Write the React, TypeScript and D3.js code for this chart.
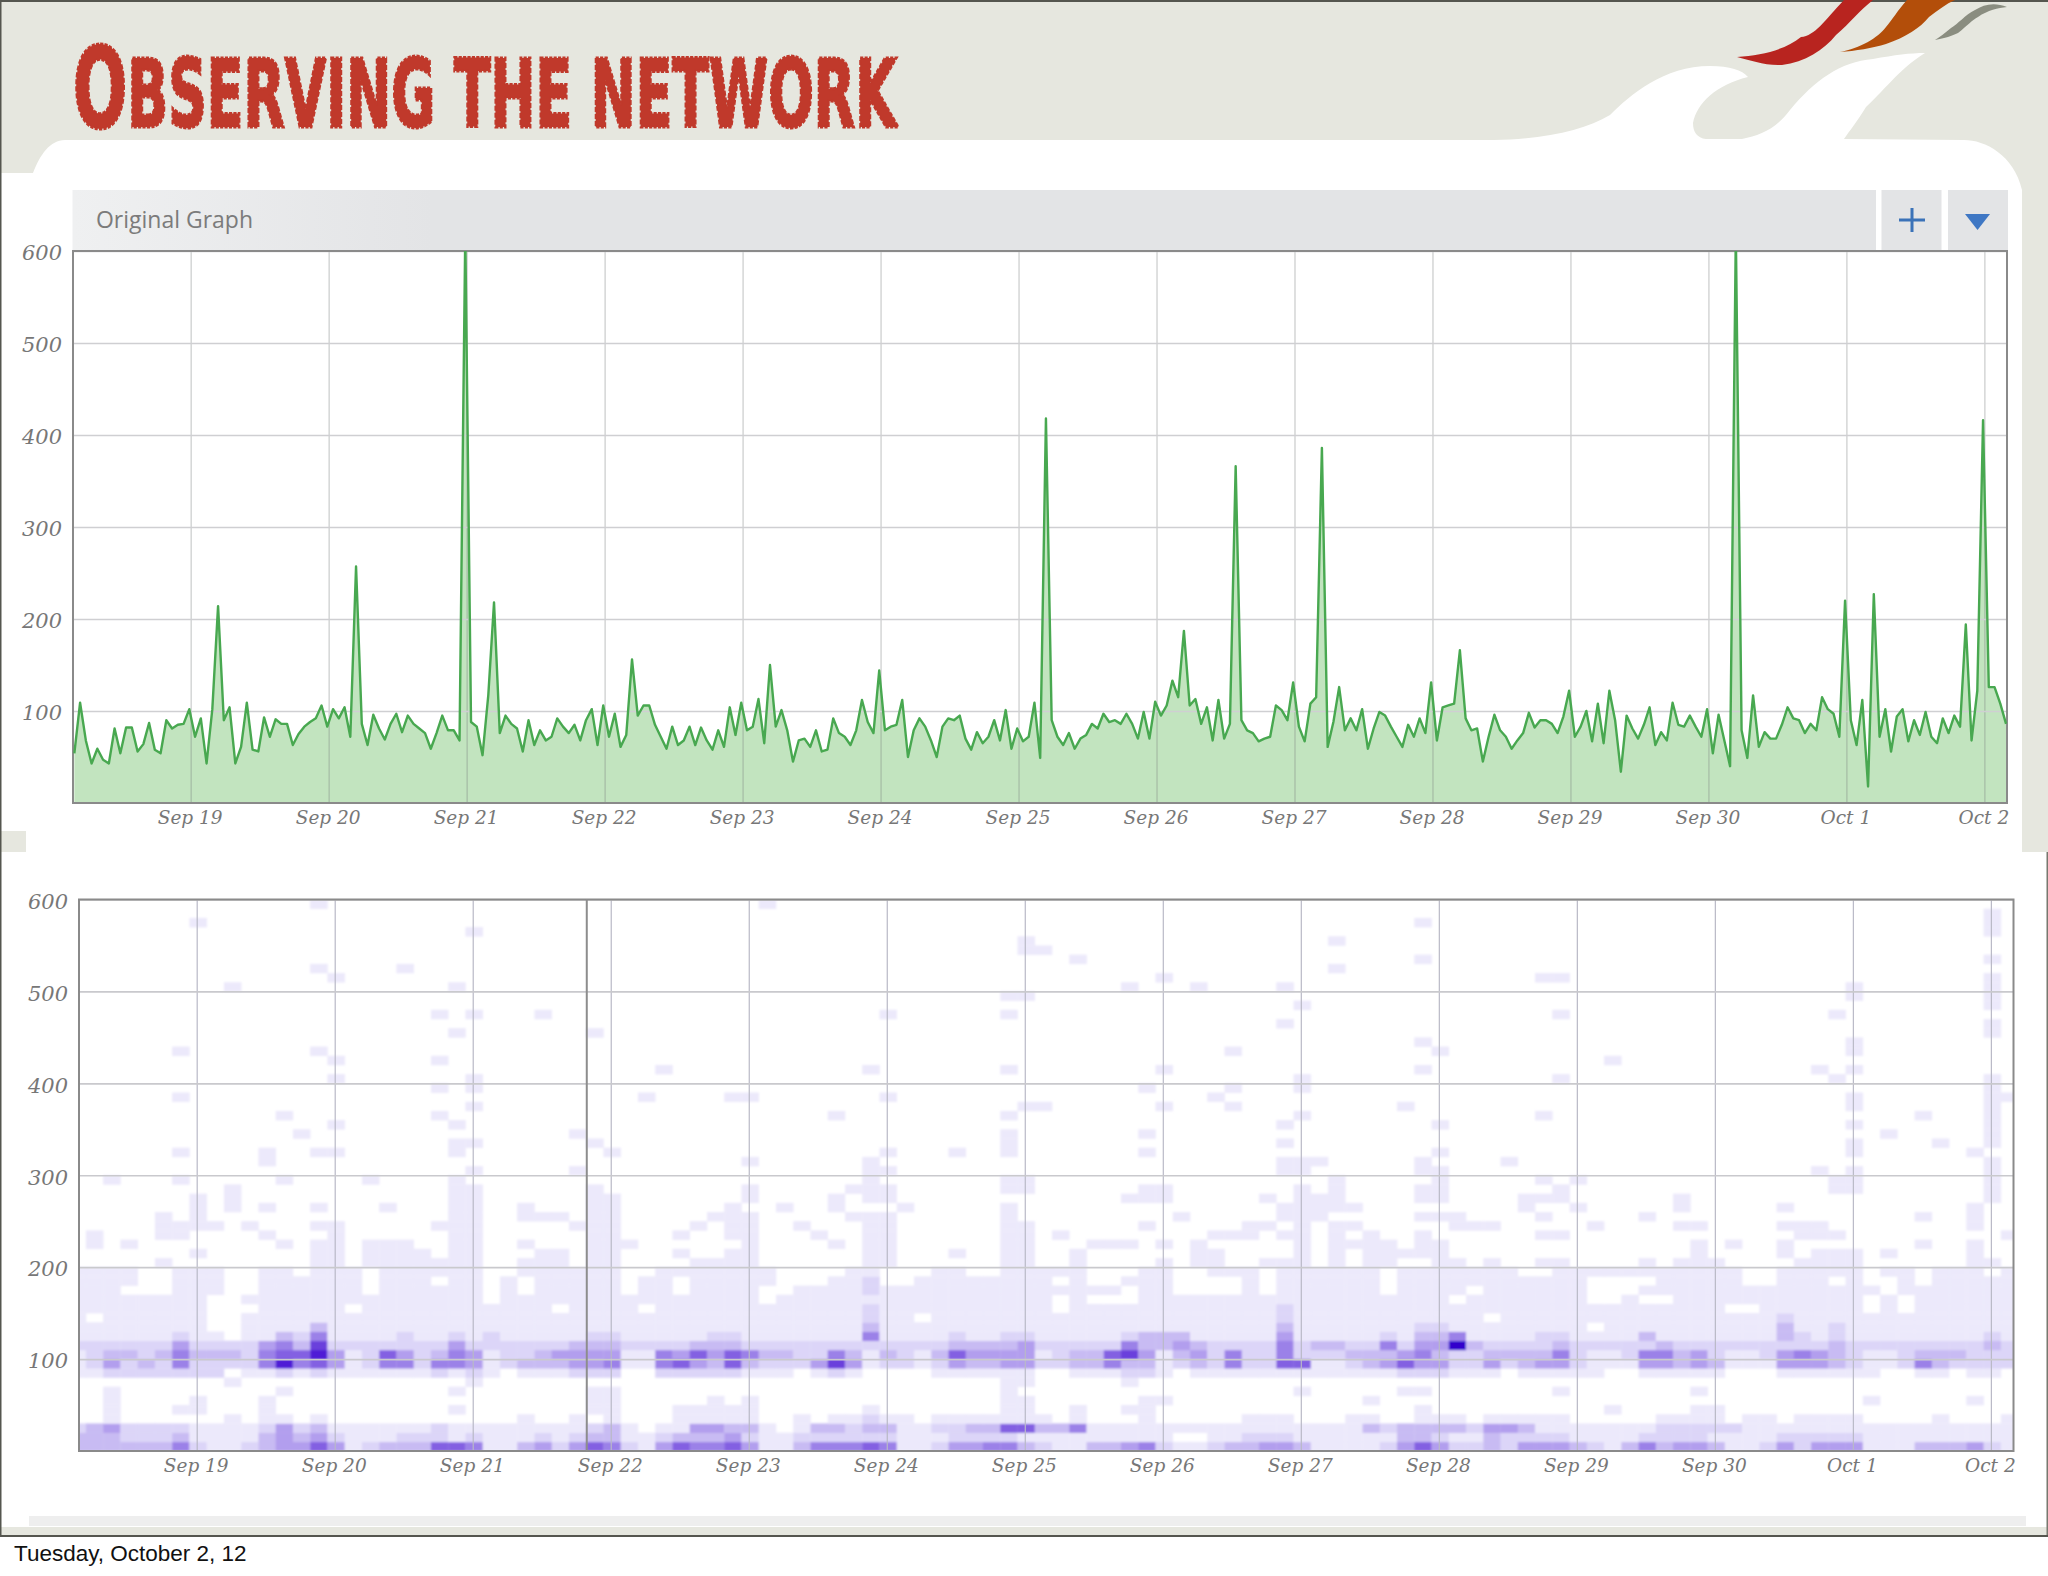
import { useEffect, useRef } from "react";
import * as d3 from "d3";

// hourly samples (the two tallest spikes run off the top)
const lineValues = [
  54, 109, 68, 43, 59, 47, 43, 81, 54, 82, 82, 56, 64, 87, 58, 54, 90, 81, 85, 86,
  102, 72, 92, 43, 102, 214, 90, 104, 43, 61, 109, 58, 56, 93, 72, 91, 86, 86, 63, 75,
  83, 88, 92, 106, 83, 102, 92, 104, 72, 257, 86, 63, 96, 81, 69, 86, 97, 77, 95, 86,
  81, 76, 59, 76, 95, 79, 79, 68, 620, 88, 83, 52, 117, 218, 76, 95, 86, 81, 56, 90,
  63, 79, 68, 72, 92, 83, 76, 85, 68, 90, 102, 63, 106, 72, 97, 61, 74, 156, 95, 106,
  106, 85, 72, 59, 83, 63, 68, 83, 63, 82, 68, 58, 79, 61, 104, 74, 109, 79, 83, 113,
  65, 150, 83, 101, 79, 45, 68, 70, 61, 79, 56, 58, 92, 76, 72, 63, 79, 112, 88, 76,
  144, 79, 83, 85, 112, 50, 79, 92, 83, 68, 50, 83, 92, 90, 95, 70, 58, 77, 65, 72,
  90, 68, 101, 59, 81, 67, 72, 109, 49, 418, 90, 72, 63, 76, 59, 70, 74, 86, 81, 97,
  88, 90, 86, 97, 86, 70, 99, 70, 110, 95, 106, 133, 115, 187, 106, 113, 86, 104, 68, 112,
  70, 86, 366, 90, 79, 76, 67, 70, 72, 106, 101, 90, 131, 83, 67, 108, 115, 386, 61, 88,
  126, 79, 92, 79, 102, 59, 81, 99, 95, 83, 72, 61, 85, 72, 92, 76, 131, 68, 104, 106,
  108, 166, 92, 79, 81, 45, 72, 96, 79, 72, 59, 68, 76, 98, 82, 90, 90, 86, 76, 94,
  122, 72, 83, 100, 67, 108, 65, 122, 90, 34, 95, 81, 70, 85, 104, 63, 77, 68, 109, 85,
  83, 95, 83, 72, 102, 54, 96, 68, 40, 620, 79, 49, 117, 61, 77, 70, 70, 85, 104, 92,
  90, 76, 86, 79, 115, 102, 97, 72, 220, 90, 63, 112, 18, 227, 72, 102, 56, 94, 102, 67,
  90, 74, 99, 72, 65, 92, 76, 95, 83, 194, 68, 122, 416, 126, 126, 108, 86,
];

const xTickLabels = [
  "Sep 19", "Sep 20", "Sep 21", "Sep 22", "Sep 23", "Sep 24", "Sep 25",
  "Sep 26", "Sep 27", "Sep 28", "Sep 29", "Sep 30", "Oct 1", "Oct 2",
];
const yTickValues = [100, 200, 300, 400, 500, 600];

// heatmap rows from 0-10 upwards, one digit per 3 hour bucket (0 = empty), grouped by tens
const denseRows = [
  "3333335211 2344641233 3665113424 6521465564 1135556511 2445532113 3452112334 4311112464 2232444321 3534431124 2444111333 421",
  "3332223111 1343421112 2212111212 3311233342 1122222211 1222211111 1111001122 2111111332 1132222111 1222211112 2222111111 111",
  "2342222111 1242311111 1211111111 2310114433 1013323311 2233663351 1111111111 1111132333 3244311111 1122222111 1111111111 111",
  "0010000001 0110100000 0000001001 0100011111 0010112110 1111111010 0010000011 1000110011 1011111000 0011110110 1111000010 001",
  "0010001100 0100000000 0010000000 1100011111 0000001000 0000110010 0110000000 0000000010 0000000001 0000110000 0000000000 000",
  "0010000100 0100000000 0000000000 1100000101 0000000000 0000110000 0011000000 0000010000 0000000000 0000000000 0000100000 100",
  "0010000000 0010000000 0010000000 1100000000 0000000000 0000100000 0000000000 0100000110 0000001000 0000100000 0000000000 000",
  "0000000001 0000000000 0001000000 0000000000 0000000000 0000110000 0100000000 0000000000 0000000000 0000000000 0000000000 000",
  "1122222220 1121211111 1212101112 2200222221 1101210000 1111110011 1221011111 1111111222 1110111110 0111110001 1111100110 110",
  "1242325222 2585641255 2554123334 4511564363 2224741221 2433442233 5331232522 6611234644 2242344211 1443431114 4432112532 222",
  "1233235333 2566841264 2354122344 4411546465 3322531321 3644441233 6741342522 5222333453 2233335211 2553421124 5432112333 222",
  "2222224222 2453722222 2242222223 3322223332 2222222222 2333342222 2533432222 5233225244 9322223222 2232222222 2232222222 232",
  "1111112110 1132511112 1121211111 2211111221 1111115111 1211221111 1233311111 4111112133 5111122111 1311111113 2121111111 121",
  "1111111100 1111311111 1111111111 1111111111 1111113111 1111111111 1111111111 3111111122 1111111101 1111111113 1121111111 111",
  "1011111100 1111111111 1111111111 1111111111 1111112110 1111111111 1111111111 2111111111 1101111111 1111111112 1111111111 111",
  "1111111100 0111110111 1111111101 1110111111 1111112111 1111111011 1111111111 2111111111 1111111111 1111110011 1111010111 111",
  "1111111100 1111111111 1111011111 1111111111 0111111111 1111111010 0011111111 1111111111 0111111100 1001111111 1111010111 111",
  "1110001110 0111111011 1111010111 1101101111 0011112111 1111111111 1011000010 1111110111 1011111100 0111111111 1111101111 111",
  "1111001110 0111111011 1011010111 1101101111 1000112001 1111111010 0111000010 1111110111 1111111100 0011111001 1101001011 111",
  "1111001110 0110111011 1111001111 1100111111 1000011000 1100111110 0011001110 1111110111 1111001111 1111111001 1111011011 101",
  "0000010000 0000110111 1111001110 1100001111 0000001100 0000110010 0001011001 1101011001 1010011000 0101110000 1111000000 110",
  "0000000100 0000110111 1011000110 1100010011 0000001100 0100110010 0000011000 0101011111 0000000000 0000100001 0111010000 100",
  "0101000000 0010110111 0011001000 1110000001 0000101100 0000110001 1101010000 0101111011 0000000000 0000101001 0000000100 100",
  "0100011000 0100010000 0011000000 1100010011 0001001100 0000110100 0000001110 1101010010 0000011000 0000000000 1110000000 001",
  "0000011110 1000110000 0111000001 1100001011 0010001100 0000110000 0010000011 0101100000 1110000010 0001100001 1100000000 100",
  "0000010100 0000000000 0011001110 1100000111 0000011100 0000100000 0000100000 1110000011 1000010000 0100000000 0000000100 100",
  "0000000101 0100100010 0011001000 1100000010 0100100010 0000100000 0000000000 1111100000 0000100100 0001000001 0000000000 100",
  "0000000101 0000000000 0011000000 1100000001 0000101100 0000000000 0111000001 0111000011 0000111000 0001000000 0000000000 010",
  "0000000001 0000000000 0011000000 1000000001 0000011100 0000110000 0011000000 0101000011 0000001000 0000000000 0011000000 010",
];

// rows 290-600 are sparse, so only the occupied buckets are listed (all palest level)
const sparseCols = [
  [2, 6, 12, 17, 22, 46, 54, 55, 73, 79, 85, 87, 102, 103, 111],
  [23, 29, 46, 47, 70, 71, 78, 79, 101, 103, 111],
  [11, 39, 46, 70, 71, 72, 78, 83, 111],
  [6, 11, 14, 15, 22, 31, 47, 51, 54, 62, 79, 103, 110],
  [22, 23, 30, 54, 70, 103, 108, 111],
  [13, 29, 54, 62, 105, 111],
  [15, 22, 70, 79, 103, 111],
  [12, 21, 44, 54, 71, 85, 107, 111],
  [23, 55, 56, 63, 67, 77, 103, 111],
  [6, 33, 38, 39, 47, 66, 103, 111, 112],
  [21, 23, 62, 67, 71, 111],
  [15, 23, 71, 86, 102, 111],
  [34, 46, 54, 63, 78, 101, 103],
  [15, 21, 89],
  [6, 14, 67, 79, 103],
  [78, 103],
  [22, 30, 111],
  [70, 111],
  [21, 23, 27, 47, 54, 86, 102],
  [71, 111],
  [54, 55, 103, 111],
  [9, 22, 61, 65, 70, 103, 111],
  [15, 63, 85, 86, 111],
  [14, 19, 73],
  [58, 78, 111],
  [55, 56],
  [55, 73],
  [23, 111],
  [7, 78, 111],
  [111],
  [14, 40],
];

const heatColors = [
  "#ffffff", "#ece9fb", "#dcd5f8", "#c8bbf3", "#b29eee",
  "#9b81e8", "#8360e2", "#6b40dc", "#4f1fd6", "#3300cc",
];

const rowSize = 10;
const bucketHours = 3;
const domainStart = Date.UTC(2012, 8, 18, 3, 32);
const domainEnd = Date.UTC(2012, 9, 2, 3, 56);
const firstSample = Date.UTC(2012, 8, 18, 3, 46);
const firstBucket = Date.UTC(2012, 8, 18, 1, 44);

const labelFont = "'DejaVu Serif', serif";

const hour = 3600 * 1000;
const tickDates = xTickLabels.map((_, i) => new Date(Date.UTC(2012, 8, 19 + i)));

function drawAxes(
  g: d3.Selection<SVGGElement, unknown, null, undefined>,
  x: d3.ScaleTime<number, number>,
  y: d3.ScaleLinear<number, number>,
  gridColor: string,
  vGridColor: string
) {
  const [left, right] = x.range();
  const [bottom, top] = y.range();

  const xAxis = g
    .append("g")
    .attr("transform", `translate(0,${bottom})`)
    .call(
      d3
        .axisBottom(x)
        .tickValues(tickDates)
        .tickFormat((_, i) => xTickLabels[i])
        .tickSize(-(bottom - top))
        .tickPadding(8)
    );
  const yAxis = g
    .append("g")
    .attr("transform", `translate(${left},0)`)
    .call(
      d3
        .axisLeft(y)
        .tickValues(yTickValues)
        .tickFormat((d) => String(d))
        .tickSize(-(right - left))
        .tickPadding(11)
    );

  xAxis.select(".domain").remove();
  yAxis.select(".domain").remove();
  xAxis.selectAll("line").attr("stroke", vGridColor).attr("stroke-width", 1.2);
  yAxis.selectAll("line").attr("stroke", gridColor).attr("stroke-width", 1.6);

  g.selectAll("text")
    .attr("font-family", labelFont)
    .attr("font-style", "italic")
    .attr("fill", "#777");
  xAxis.selectAll("text").attr("font-size", 18.5).attr("dx", -1);
  yAxis.selectAll("text").attr("font-size", 21).attr("dy", "0.42em");

  g.append("rect")
    .attr("x", left)
    .attr("y", top)
    .attr("width", right - left)
    .attr("height", bottom - top)
    .attr("fill", "none")
    .attr("stroke", "#8a8a8a")
    .attr("stroke-width", 2);
}

const App = () => {
  const svgRef = useRef<SVGSVGElement | null>(null);

  useEffect(() => {
    const svg = d3.select(svgRef.current);
    svg.selectAll(".chart").remove();

    // top chart: green line over a filled area
    const xTop = d3.scaleUtc().domain([domainStart, domainEnd]).range([73, 2007]);
    const yTop = d3.scaleLinear().domain([0, 600]).range([803, 251]);
    const top = svg.append("g").attr("class", "chart");

    const sampleTime = (i: number) => firstSample + i * hour;
    top
      .append("path")
      .datum(lineValues)
      .attr("clip-path", "url(#clipTop)")
      .attr("fill", "#c2e4bf")
      .attr(
        "d",
        d3
          .area<number>()
          .x((_, i) => xTop(sampleTime(i)))
          .y0(yTop(0))
          .y1((d) => yTop(d))
      );
    drawAxes(top, xTop, yTop, "#cfcfd2", "rgba(120,125,125,0.4)");
    top
      .append("path")
      .datum(lineValues)
      .attr("clip-path", "url(#clipTop)")
      .attr("fill", "none")
      .attr("stroke", "#48a850")
      .attr("stroke-width", 2.4)
      .attr("stroke-linejoin", "round")
      .attr(
        "d",
        d3
          .line<number>()
          .x((_, i) => xTop(sampleTime(i)))
          .y((d) => yTop(d))
      );

    // bottom chart: latency buckets
    const xHeat = d3.scaleUtc().domain([domainStart, domainEnd]).range([79, 2013.5]);
    const yHeat = d3.scaleLinear().domain([0, 600]).range([1451, 899.5]);
    const heat = svg.append("g").attr("class", "chart");

    const cells: { col: number; row: number; level: number }[] = [];
    denseRows.forEach((text, row) => {
      text
        .replace(/ /g, "")
        .split("")
        .forEach((ch, col) => {
          if (ch !== "0") cells.push({ col, row, level: +ch });
        });
    });
    sparseCols.forEach((cols, i) => {
      cols.forEach((col) => cells.push({ col, row: denseRows.length + i, level: 1 }));
    });

    const bucketTime = (col: number) => firstBucket + col * bucketHours * hour;
    heat
      .append("g")
      .attr("clip-path", "url(#clipHeat)")
      .append("g")
      .attr("filter", "url(#soften)")
      .selectAll("rect")
      .data(cells)
      .enter()
      .append("rect")
      .attr("x", (d) => xHeat(bucketTime(d.col)))
      .attr("y", (d) => yHeat((d.row + 1) * rowSize))
      .attr("width", (d) => xHeat(bucketTime(d.col + 1)) - xHeat(bucketTime(d.col)) + 0.3)
      .attr("height", (d) => yHeat(d.row * rowSize) - yHeat((d.row + 1) * rowSize) + 0.3)
      .attr("fill", (d) => heatColors[d.level]);

    drawAxes(heat, xHeat, yHeat, "#c9c9cd", "#b9b9c6");

    // hover cursor that was caught in the screenshot
    const cursorTime = Date.UTC(2012, 8, 21, 19, 50);
    heat
      .append("line")
      .attr("x1", xHeat(cursorTime))
      .attr("x2", xHeat(cursorTime))
      .attr("y1", yHeat(600))
      .attr("y2", yHeat(0))
      .attr("stroke", "#8d8d8d")
      .attr("stroke-width", 2);
  }, []);

  return (
    <svg
      ref={svgRef}
      width={2048}
      height={1576}
      style={{ position: "absolute", left: 0, top: 0, background: "#fff" }}
    >
      <defs>
        <clipPath id="clipTop">
          <rect x={73} y={251} width={1934} height={552} />
        </clipPath>
        <clipPath id="clipHeat">
          <rect x={79} y={899.5} width={1934.5} height={551.5} />
        </clipPath>
        <filter id="soften" x="0" y="0" width="100%" height="100%">
          <feGaussianBlur stdDeviation="1.2" />
        </filter>
        <linearGradient id="barFill" x1="0" x2="1" y1="0" y2="0">
          <stop offset="0" stopColor="#eff0f1" />
          <stop offset="0.2" stopColor="#e3e4e6" />
          <stop offset="1" stopColor="#e3e4e6" />
        </linearGradient>
      </defs>

      {/* slide background */}
      <rect x={0} y={0} width={2048} height={1536} fill="#e6e7df" />
      <path
        fill="#fff"
        d="M0,173 L33,173 C40,155 50,140 65,140 L1494,140 C1546,139 1585,130 1610,115 C1630,95 1664,66 1710,66 C1730,66 1742,70 1748,77 C1716,85 1697,103 1693,123 C1693,132 1697,138 1706,139 L1742,139 C1760,135 1775,130 1790,110 C1815,80 1840,62 1873,59 C1895,55 1910,53 1925,53 C1900,68 1880,95 1866,107 C1857,122 1850,130 1844,139 L1964,140 C1985,140 2014,155 2022,190 L2022,852 L2048,852 L2048,1527 L0,1527 Z"
      />
      <rect x={0} y={831} width={26} height={21} fill="#e6e7df" />
      <rect x={29} y={1516} width={1997} height={10} fill="#eeeeee" />
      <rect x={0} y={0} width={2048} height={2} fill="#55564f" />
      <rect x={0} y={0} width={1.5} height={1537} fill="#55564f" />
      <rect x={2046.5} y={852} width={1.5} height={685} fill="#77786f" />
      <rect x={0} y={1535} width={2048} height={2} fill="#55564f" />

      {/* logo strokes */}
      <path
        fill="#b8241f"
        d="M1844,0 C1825,20 1815,36 1801,37 C1785,50 1762,55 1737,57 C1750,60 1765,66 1782,65 C1805,62 1824,50 1836,35 C1850,23 1860,10 1873,0 Z"
      />
      <path
        fill="#b34e0a"
        d="M1907,0 C1898,10 1892,20 1886,27 C1878,38 1860,48 1840,52 C1855,51 1873,48 1886,44 C1906,37 1920,28 1929,17 C1938,10 1946,4 1955,0 Z"
      />
      <path
        fill="#8a8d80"
        d="M2007,7 C1995,2 1984,4 1975,10 C1965,15 1958,24 1951,28 C1945,33 1940,37 1935,40 C1945,38 1952,36 1958,33 C1968,25 1972,20 1978,17 C1988,10 1998,8 2007,7 Z"
      />

      {/* title */}
      <text
        transform="translate(73,127) scale(0.628,1)"
        fill="#c0392b"
        fontFamily="'Liberation Sans Narrow', 'DejaVu Sans Condensed', sans-serif"
        fontWeight="bold"
        stroke="#c0392b"
        strokeWidth={3}
        strokeDasharray="5 2"
      >
        <tspan fontSize={113}>O</tspan>
        <tspan fontSize={95}>BSERVING THE NETWORK</tspan>
      </text>

      {/* graph title bar */}
      <rect x={72.5} y={190} width={1803.5} height={60} fill="url(#barFill)" />
      <rect x={1881.5} y={190} width={60} height={60} fill="#e3e4e6" />
      <rect x={1948} y={190} width={60} height={60} fill="#e3e4e6" />
      <text
        x={96}
        y={228}
        fill="#7b7b7b"
        fontFamily="'Open Sans', sans-serif"
        fontSize={24}
        textLength={157}
        lengthAdjust="spacingAndGlyphs"
      >
        Original Graph
      </text>
      <path d="M1899,220 H1925 M1912,208 V232" stroke="#3b72b8" strokeWidth={3} fill="none" />
      <path d="M1965,214 H1990 L1977.5,230 Z" fill="#3f77c4" />

      <text x={14} y={1561} fill="#111" fontFamily="'Liberation Sans', sans-serif" fontSize={22.5}>
        Tuesday, October 2, 12
      </text>
    </svg>
  );
};

export default App;
